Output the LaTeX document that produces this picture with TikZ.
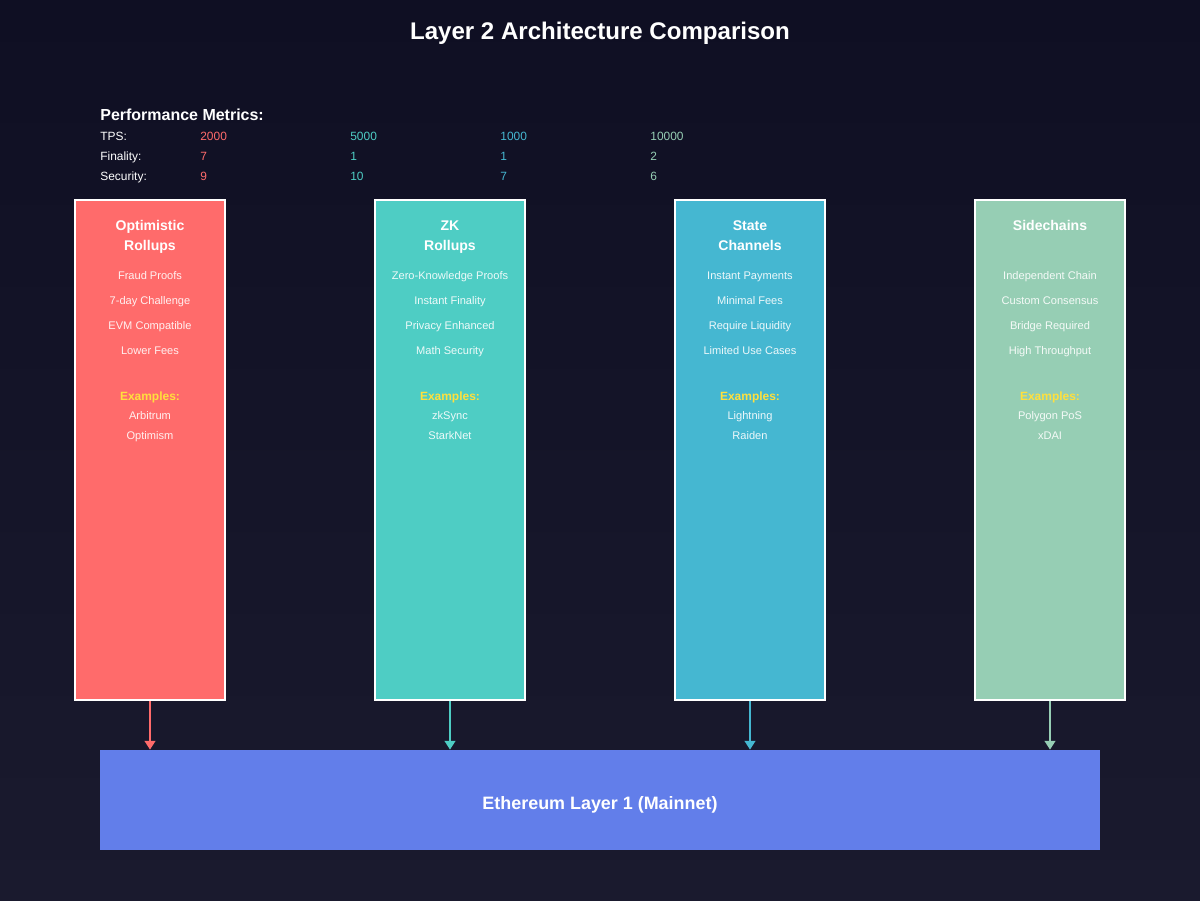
\documentclass[tikz,border=0pt]{standalone}
\usepackage{fontspec}
\setmainfont{Liberation Sans}
\usepackage{tikz}
\usetikzlibrary{arrows.meta,positioning,calc}
\definecolor{bgtop}{HTML}{0F0F23}
\definecolor{bgbot}{HTML}{1A1A2E}
\definecolor{optred}{HTML}{FF6B6B}
\definecolor{zkteal}{HTML}{4ECDC4}
\definecolor{stblue}{HTML}{45B7D1}
\definecolor{sidegreen}{HTML}{96CEB4}
\definecolor{ethblue}{HTML}{627EEA}
\definecolor{exyellow}{HTML}{FFE03D}
\tikzset{
  l2box/.style={draw=white,line width=1.2pt,minimum width=3cm,minimum height=10cm,inner sep=0pt},
  boxtitle/.style={text=white,font=\fontsize{8}{11}\selectfont\bfseries,text height=5.8pt,text depth=1.7pt,inner sep=0pt,yshift=-0.8pt},
  feat/.style={text=white,text opacity=0.9,font=\fontsize{6.3}{7.5}\selectfont,text height=4.6pt,text depth=1.3pt,inner sep=0pt,yshift=-0.6pt},
  exhead/.style={text=exyellow,font=\fontsize{6.8}{8}\selectfont\bfseries,text height=5pt,text depth=1.4pt,inner sep=0pt,yshift=-0.6pt},
  metric/.style={anchor=west,font=\fontsize{6.8}{8}\selectfont,text height=5pt,text depth=1.4pt,inner sep=0pt,yshift=-0.6pt},
  settle/.style={-{Triangle[length=5pt,width=6pt]},line width=1.6pt}
}
\begin{document}
\begin{tikzpicture}[x=0.02cm,y=-0.02cm]
            % background
            \shade[top color=bgtop,bottom color=bgbot] (0,0) rectangle (1200,900);
            \useasboundingbox (0,0) rectangle (1200,900);
            \node[text=white,font=\fontsize{13.7}{16}\selectfont\bfseries,text height=10pt,text depth=2.9pt] (title) at (600,33) {Layer 2 Architecture Comparison};
            
            % Metrics
            \node[metric,text=white,font=\fontsize{9.1}{11}\selectfont\bfseries,text height=6.6pt,text depth=1.9pt] (perf) at (100,115) {Performance Metrics:};
            \node[metric,text=white] (tps) at (100,136) {TPS:};
            \node[metric,text=white] (fin) at (100,156) {Finality:};
            \node[metric,text=white] (sec) at (100,176) {Security:};
            \node[metric,text=optred] (tpsopt) at (200,136) {2000};
            \node[metric,text=optred] (finopt) at (200,156) {7};
            \node[metric,text=optred] (secopt) at (200,176) {9};
            \node[metric,text=zkteal] (tpszk) at (350,136) {5000};
            \node[metric,text=zkteal] (finzk) at (350,156) {1};
            \node[metric,text=zkteal] (seczk) at (350,176) {10};
            \node[metric,text=stblue] (tpsst) at (500,136) {1000};
            \node[metric,text=stblue] (finst) at (500,156) {1};
            \node[metric,text=stblue] (secst) at (500,176) {7};
            \node[metric,text=sidegreen] (tpsside) at (650,136) {10000};
            \node[metric,text=sidegreen] (finside) at (650,156) {2};
            \node[metric,text=sidegreen] (secside) at (650,176) {6};
            
            % Optimistic Rollups
            \node[l2box,fill=optred] (opt) at (150,450) {};
            \node[boxtitle] at (150,225) {Optimistic};
            \node[boxtitle] at (150,245) {Rollups};
            \node[feat] at (150,276) {Fraud Proofs};
            \node[feat] at (150,301) {7-day Challenge};
            \node[feat] at (150,326) {EVM Compatible};
            \node[feat] at (150,351) {Lower Fees};
            \node[exhead] at (150,396) {Examples:};
            \node[feat] at (150,416) {Arbitrum};
            \node[feat] at (150,436) {Optimism};
            
            % ZK Rollups
            \node[l2box,fill=zkteal] (zk) at (450,450) {};
            \node[boxtitle] at (450,225) {ZK};
            \node[boxtitle] at (450,245) {Rollups};
            \node[feat] at (450,276) {Zero-Knowledge Proofs};
            \node[feat] at (450,301) {Instant Finality};
            \node[feat] at (450,326) {Privacy Enhanced};
            \node[feat] at (450,351) {Math Security};
            \node[exhead] at (450,396) {Examples:};
            \node[feat] at (450,416) {zkSync};
            \node[feat] at (450,436) {StarkNet};
            
            % State Channels
            \node[l2box,fill=stblue] (st) at (750,450) {};
            \node[boxtitle] at (750,225) {State};
            \node[boxtitle] at (750,245) {Channels};
            \node[feat] at (750,276) {Instant Payments};
            \node[feat] at (750,301) {Minimal Fees};
            \node[feat] at (750,326) {Require Liquidity};
            \node[feat] at (750,351) {Limited Use Cases};
            \node[exhead] at (750,396) {Examples:};
            \node[feat] at (750,416) {Lightning};
            \node[feat] at (750,436) {Raiden};
            
            % Sidechains
            \node[l2box,fill=sidegreen] (side) at (1050,450) {};
            \node[boxtitle] at (1050,225) {Sidechains};
            \node[feat] at (1050,276) {Independent Chain};
            \node[feat] at (1050,301) {Custom Consensus};
            \node[feat] at (1050,326) {Bridge Required};
            \node[feat] at (1050,351) {High Throughput};
            \node[exhead] at (1050,396) {Examples:};
            \node[feat] at (1050,416) {Polygon PoS};
            \node[feat] at (1050,436) {xDAI};
            
            % Layer 1
            \node[fill=ethblue,minimum width=20cm,minimum height=2cm,inner sep=0pt] (eth) at (600,800) {};
            \node[text=white,font=\fontsize{10.2}{12}\selectfont\bfseries,text height=7.4pt,text depth=2.1pt,inner sep=0pt] at (600,805) {Ethereum Layer 1 (Mainnet)};
            
            % settlement arrows
            \foreach \b/\c in {opt/optred,zk/zkteal,st/stblue,side/sidegreen}
              \draw[settle,\c] (\b.south) -- (\b.south |- eth.north);
        \end{tikzpicture}
\end{document}
